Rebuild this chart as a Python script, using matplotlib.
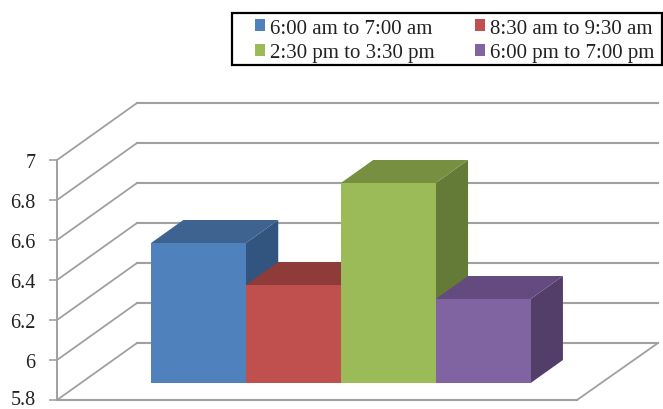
import matplotlib
matplotlib.use("Agg")
import matplotlib.pyplot as plt
from matplotlib.patches import Patch, Rectangle
from matplotlib.transforms import ScaledTranslation

plt.rcParams['font.family'] = ['Liberation Serif', 'DejaVu Serif']

series = ["6:00 am to 7:00 am", "8:30 am to 9:30 am", "2:30 pm to 3:30 pm", "6:00 pm to 7:00 pm"]
values = [6.5, 6.29, 6.8, 6.22]
yticks = [5.8, 6, 6.2, 6.4, 6.6, 6.8, 7]
ylabels = ["5.8", "6", "6.2", "6.4", "6.6", "6.8", "7"]
front_col = ["#4F81BD", "#C0504D", "#9BBB59", "#8064A2"]
top_col = ["#3E6390", "#8F3B39", "#778F41", "#634B7F"]
side_col = ["#31557F", "#7E3331", "#647A37", "#533E69"]

grid = "#a0a0a0"
# oblique offset of the back wall, in axis units
dx = 80 / 520
dy = 0.285
# bar depth as a fraction of the floor depth
d0 = 17 / 57
d1 = 40 / 57
w = 0.1825
gap = (1 - 4 * w) / 2
ymin = 5.8

fig = plt.figure(figsize=(6.63, 4.10), dpi=100)
ax = fig.add_axes([57 / 663, 9 / 410, 520 / 663, 240 / 410])
ax.set_xlim(0, 1)
ax.set_ylim(5.8, 7)
ax.patch.set_visible(False)
for s in ["top", "right", "bottom"]:
    ax.spines[s].set_visible(False)
ax.spines["left"].set_color(grid)
ax.spines["left"].set_linewidth(1.4)

ax.set_xticks([])
ax.set_yticks(yticks)
ax.set_yticklabels(ylabels, fontsize=14.5, color="#222222")
ax.tick_params(axis="y", length=5.5, width=1.2, color=grid, pad=10)

# lift the lowest label a little so it stays inside the figure
low = ax.get_yticklabels()[0]
low.set_transform(low.get_transform() + ScaledTranslation(0, 2.5 / 100, fig.dpi_scale_trans))

# walls and floor
right = 1 + dx * 81 / 80
for t in yticks:
    ax.plot([0, dx], [t, t + dy], color=grid, lw=1.3, clip_on=False, zorder=1)
    ax.plot([dx, right], [t + dy, t + dy], color=grid, lw=1.5, clip_on=False, zorder=1)
ax.plot([0, 1], [ymin, ymin], color=grid, lw=1.5, clip_on=False, zorder=1)
ax.plot([1, right], [ymin, ymin + dy], color=grid, lw=1.3, clip_on=False, zorder=1)

# 3d bars, painted left to right so each covers the side of the previous one
for i, v in enumerate(values):
    x0 = gap + i * w + d0 * dx
    x1 = x0 + w
    base = ymin + d0 * dy
    top = v + d0 * dy
    ox = (d1 - d0) * dx
    oy = (d1 - d0) * dy
    z = 2 + i
    ax.fill([x1, x1 + ox, x1 + ox, x1], [base, base + oy, top + oy, top],
            color=side_col[i], lw=0, clip_on=False, zorder=z)
    ax.fill([x0, x1, x1 + ox, x0 + ox], [top, top, top + oy, top + oy],
            color=top_col[i], lw=0, clip_on=False, zorder=z)
    ax.bar(x0, v - ymin, width=w, bottom=base, align="edge", color=front_col[i],
           lw=0, clip_on=False, zorder=z)

# legend frame is separate so the box can run wider than its entries
fig.add_artist(Rectangle((232 / 663, 1 - 66 / 410), 430 / 663, 52 / 410,
                         transform=fig.transFigure, fill=False,
                         edgecolor="black", lw=1.6))

# legend fills by column, reorder so it reads across the rows
order = [0, 2, 1, 3]
handles = [Patch(facecolor=front_col[i], edgecolor="none") for i in order]
labels = [series[i] for i in order]
leg = fig.legend(handles, labels, ncol=2, fontsize=15, frameon=False,
                 loc="upper left", bbox_to_anchor=(255 / 663, 1 - 19.5 / 410),
                 bbox_transform=fig.transFigure, borderaxespad=0, borderpad=0,
                 handlelength=0.48, handleheight=0.48, handletextpad=0.25,
                 columnspacing=1.92, labelspacing=0.27)
for txt in leg.get_texts():
    txt.set_color("#222222")

fig.savefig("out.png", dpi=100)
